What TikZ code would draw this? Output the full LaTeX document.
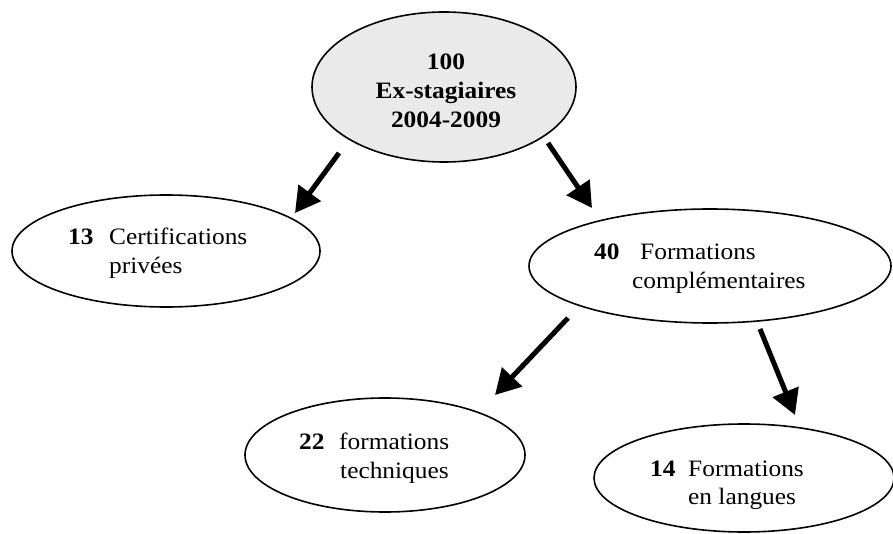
\documentclass[tikz,border=0pt]{standalone}
\usepackage{fontspec}
\setmainfont[FakeStretch=1.08]{Liberation Serif}
\usetikzlibrary{arrows.meta,shapes.geometric}
\definecolor{topgray}{RGB}{234,234,234}
\begin{document}
\begin{tikzpicture}[x=1pt,y=-1pt,
  bubble/.style={draw=black, line width=1.6pt, ellipse, inner sep=0pt},
  txt/.style={anchor=base west, inner sep=0pt, font=\fontsize{23.5}{28}\selectfont},
  num/.style={anchor=base west, inner sep=0pt, font=\fontsize{23.5}{28}\selectfont\bfseries},
  toptxt/.style={anchor=base, inner sep=0pt, font=\fontsize{23.5}{28}\selectfont\bfseries},
  arr/.style={-{Triangle[length=25pt,width=27pt]}, line width=5pt}
]
\useasboundingbox (0,0) rectangle (893,534);
\clip (0,0) rectangle (893,534);

% top
\node[bubble, fill=topgray, minimum width=264pt, minimum height=150pt] (top) at (444,87) {};
\node[toptxt] (t1) at (446,70) {100};
\node[toptxt] (t2) at (446,99) {Ex-stagiaires};
\node[toptxt] (t3) at (446,128) {2004-2009};

% 13
\node[bubble, minimum width=308pt, minimum height=112pt] (c13) at (166,251) {};
\node[num] (n13) at (68,245) {13};
\node[txt] (a13) at (109,245) {Certifications};
\node[txt] (b13) at (109,274) {privées};

% 40
\node[bubble, minimum width=362pt, minimum height=114pt] (c40) at (710,266) {};
\node[num] (n40) at (594,260) {40};
\node[txt] (a40) at (640,260) {Formations};
\node[txt] (b40) at (632,288) {complémentaires};

% 22
\node[bubble, minimum width=280pt, minimum height=114pt] (c22) at (385,455) {};
\node[num] (n22) at (299,449) {22};
\node[txt] (a22) at (339,449) {formations};
\node[txt] (b22) at (340,478) {techniques};

% 14
\node[bubble, minimum width=300pt, minimum height=108pt] (c14) at (744,478) {};
\node[num] (n14) at (650,476) {14};
\node[txt] (a14) at (688,476) {Formations};
\node[txt] (b14) at (688,504) {en langues};

% arrows
\coordinate (s1) at (339,153); \coordinate (e1) at (295,213);
\coordinate (s2) at (548,143); \coordinate (e2) at (592,208);
\coordinate (s3) at (568,318); \coordinate (e3) at (495,395);
\coordinate (s4) at (760,329); \coordinate (e4) at (795,415);
\draw[arr] (s1) -- (e1);
\draw[arr] (s2) -- (e2);
\draw[arr] (s3) -- (e3);
\draw[arr] (s4) -- (e4);
\end{tikzpicture}
\end{document}
